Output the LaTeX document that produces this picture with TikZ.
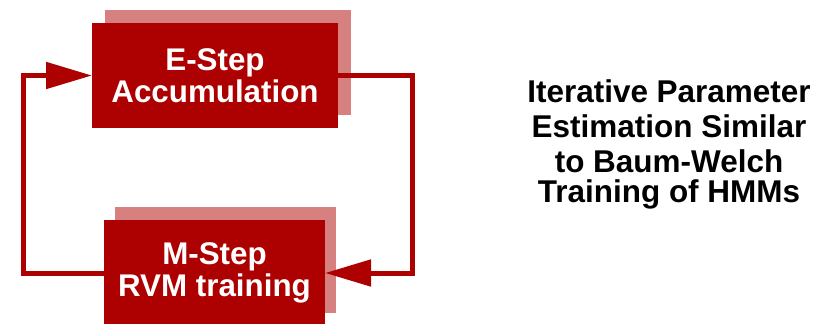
\documentclass[tikz,border=0pt]{standalone}
\usepackage{fontspec}
\setmainfont{Liberation Sans}
\usetikzlibrary{arrows.meta, shadows}
\definecolor{boxred}{HTML}{AD0000}
\definecolor{boxshade}{HTML}{D68080}

\begin{document}
\begin{tikzpicture}[x=0.75pt, y=-0.75pt, >={Triangle[length=34.5pt, width=19.5pt]},
  stepbox/.style={fill=boxred, text=white, inner sep=0pt, outer sep=0pt, align=center,
    font=\fontsize{23.5pt}{24pt}\selectfont\bfseries},
  loopline/.style={->, boxred, line width=3.75pt}]

% Page frame
\useasboundingbox (0,0) rectangle (831,324);

% E-Step box with its offset shade
\node[stepbox, minimum width=184.5pt, minimum height=78.75pt,
      general shadow={fill=boxshade, shadow xshift=9.75pt, shadow yshift=9.75pt}]
  (estep) at (215,75.5) {E-Step\\Accumulation};

% M-Step box with its offset shade
\node[stepbox, minimum width=165.75pt, minimum height=79.5pt,
      general shadow={fill=boxshade, shadow xshift=8.25pt, shadow yshift=9.75pt}]
  (mstep) at (214.5,273) {M-Step\\RVM training};

% Loop connectors
\draw[loopline] (estep.east) -- ++(74,0) |- (mstep.east);
\draw[loopline] (mstep.west) -- ++(-81,0) |- (estep.west);

% Side caption
\node[font=\fontsize{23.6pt}{21pt}\selectfont\bfseries, align=center] (caption) at (669,144.5)
  {Iterative Parameter\\[5pt]Estimation Similar\\[5pt]to Baum-Welch\\[1.5pt]Training of HMMs};

\end{tikzpicture}
\end{document}
